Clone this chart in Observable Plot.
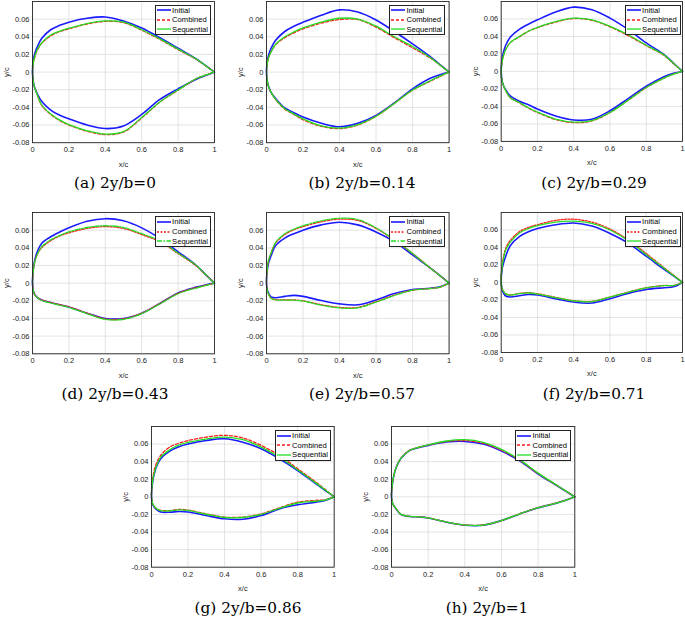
<!DOCTYPE html>
<html><head><meta charset="utf-8">
<script src="https://cdn.jsdelivr.net/npm/d3@7"></script>
<script src="https://cdn.jsdelivr.net/npm/@observablehq/plot@0.6"></script>
<style>
body{margin:0;background:#fff;overflow:hidden}
#root{position:relative;width:685px;height:619px;overflow:hidden}
.panel{position:absolute}
.cap{position:absolute;font-family:"DejaVu Serif",serif;font-size:15.3px;transform:translate(-50%,-50%);white-space:nowrap;color:#000}
.leg{position:absolute;background:#fff;border:1px solid #222;font-family:"Liberation Sans",Arial,sans-serif;font-size:7.6px;line-height:9.6px;padding:0 2px 0 1px;color:#000}
.leg div{display:flex;align-items:center;white-space:nowrap}
.leg svg{margin-right:1px}
</style></head>
<body><div id="root"></div>
<script>
const xs = [0, 0.005, 0.0125, 0.025, 0.05, 0.1, 0.15, 0.2, 0.3, 0.4, 0.5, 0.6, 0.7, 0.8, 0.9, 0.95, 1];
const xTicks = [0, 0.2, 0.4, 0.6, 0.8, 1];
const yTicks = [-0.08, -0.06, -0.04, -0.02, 0, 0.02, 0.04, 0.06];
const seriesNames = ["Initial", "Combined", "Sequential"];
const captions = ["(a) 2y/b=0", "(b) 2y/b=0.14", "(c) 2y/b=0.29", "(d) 2y/b=0.43", "(e) 2y/b=0.57", "(f) 2y/b=0.71", "(g) 2y/b=0.86", "(h) 2y/b=1"];

// (a)
const aInitUp  = [0, 0.014, 0.021, 0.028, 0.038, 0.048, 0.053, 0.0566, 0.061, 0.0625, 0.058, 0.050, 0.039, 0.027, 0.0148, 0.0075, 0];
const aCombUp  = [0, 0.011, 0.017, 0.024, 0.0325, 0.041, 0.046, 0.049, 0.0545, 0.0575, 0.056, 0.0475, 0.037, 0.0255, 0.0145, 0.0073, 0];
const aSeqUp   = [0, 0.011, 0.018, 0.025, 0.033, 0.042, 0.0465, 0.0497, 0.055, 0.058, 0.0565, 0.048, 0.0376, 0.026, 0.0148, 0.0075, 0];
const aInitLow = [0, -0.012, -0.018, -0.024, -0.033, -0.043, -0.049, -0.053, -0.060, -0.064, -0.061, -0.048, -0.031, -0.019, -0.008, -0.004, 0];
const aCombLow = [0, -0.012, -0.018, -0.025, -0.0375, -0.048, -0.055, -0.060, -0.067, -0.0708, -0.068, -0.052, -0.034, -0.0205, -0.0075, -0.0035, 0];
const aSeqLow  = [0, -0.012, -0.018, -0.025, -0.037, -0.0475, -0.0545, -0.0595, -0.0665, -0.0703, -0.0675, -0.0515, -0.0338, -0.0203, -0.0073, -0.0035, 0];
// (b)
const bInitUp  = [0, 0.013, 0.020, 0.027, 0.036, 0.046, 0.052, 0.0565, 0.0645, 0.0705, 0.068, 0.059, 0.046, 0.032, 0.017, 0.0085, 0];
const bCombUp  = [0, 0.011, 0.017, 0.023, 0.031, 0.039, 0.0445, 0.049, 0.0555, 0.0595, 0.0595, 0.051, 0.039, 0.0275, 0.0155, 0.008, 0];
const bSeqUp   = [0, 0.011, 0.017, 0.023, 0.0315, 0.040, 0.0455, 0.050, 0.0566, 0.061, 0.060, 0.052, 0.040, 0.029, 0.016, 0.008, 0];
const bInitLow = [0, -0.011, -0.017, -0.023, -0.030, -0.0406, -0.046, -0.051, -0.058, -0.062, -0.058, -0.049, -0.035, -0.019, -0.0068, -0.003, 0];
const bCombLow = [0, -0.011, -0.017, -0.023, -0.031, -0.042, -0.048, -0.054, -0.0615, -0.064, -0.060, -0.050, -0.0355, -0.0205, -0.010, -0.005, 0];
const bSeqLow  = [0, -0.011, -0.017, -0.023, -0.031, -0.0415, -0.0475, -0.053, -0.061, -0.0635, -0.0595, -0.050, -0.0355, -0.0203, -0.0095, -0.0045, 0];
// (c)
const cInitUp  = [0, 0.014, 0.022, 0.030, 0.039, 0.048, 0.054, 0.059, 0.068, 0.0735, 0.0706, 0.061, 0.048, 0.0327, 0.019, 0.0095, 0];
const cCombUp  = [0, 0.011, 0.018, 0.025, 0.033, 0.0395, 0.046, 0.050, 0.0565, 0.0605, 0.0585, 0.051, 0.041, 0.0295, 0.018, 0.009, 0];
const cSeqUp   = [0, 0.011, 0.018, 0.025, 0.033, 0.040, 0.046, 0.0505, 0.057, 0.061, 0.059, 0.0516, 0.042, 0.030, 0.0186, 0.0093, 0];
const cInitLow = [0, -0.011, -0.016, -0.021, -0.028, -0.034, -0.038, -0.043, -0.051, -0.0555, -0.0547, -0.045, -0.031, -0.017, -0.0058, -0.002, 0];
const cCombLow = [0, -0.011, -0.016, -0.022, -0.030, -0.036, -0.042, -0.047, -0.055, -0.0585, -0.0566, -0.047, -0.033, -0.0185, -0.0075, -0.003, 0];
const cSeqLow  = [0, -0.011, -0.016, -0.022, -0.030, -0.0355, -0.0415, -0.0465, -0.0545, -0.058, -0.0562, -0.047, -0.033, -0.0183, -0.0073, -0.003, 0];
// (d)
const dInitUp  = [0, 0.017, 0.026, 0.035, 0.045, 0.0525, 0.058, 0.0626, 0.070, 0.073, 0.0706, 0.0626, 0.0506, 0.0355, 0.020, 0.010, 0];
const dCombUp  = [0, 0.015, 0.024, 0.032, 0.040, 0.048, 0.0535, 0.057, 0.062, 0.064, 0.062, 0.055, 0.047, 0.0335, 0.0195, 0.0098, 0];
const dSeqUp   = [0, 0.015, 0.024, 0.032, 0.041, 0.049, 0.054, 0.058, 0.063, 0.065, 0.063, 0.056, 0.048, 0.034, 0.020, 0.010, 0];
const dInitLow = [0, -0.009, -0.013, -0.016, -0.019, -0.022, -0.0245, -0.027, -0.034, -0.040, -0.040, -0.034, -0.023, -0.011, -0.0045, -0.002, 0];
const dCombLow = [0, -0.009, -0.013, -0.016, -0.019, -0.022, -0.0245, -0.027, -0.034, -0.0405, -0.0405, -0.034, -0.023, -0.0115, -0.005, -0.0025, 0];
const dSeqLow  = [0, -0.009, -0.013, -0.016, -0.0195, -0.0225, -0.025, -0.0275, -0.0345, -0.041, -0.041, -0.0345, -0.0235, -0.012, -0.0055, -0.0028, 0];
// (e)
const eInitUp  = [0, 0.016, 0.024, 0.031, 0.0425, 0.051, 0.056, 0.060, 0.066, 0.069, 0.066, 0.058, 0.047, 0.032, 0.0166, 0.0085, 0];
const eCombUp  = [0, 0.018, 0.027, 0.034, 0.0455, 0.055, 0.0605, 0.064, 0.0695, 0.0725, 0.071, 0.062, 0.0487, 0.0336, 0.0166, 0.0085, 0];
const eSeqUp   = [0, 0.018, 0.027, 0.034, 0.046, 0.056, 0.061, 0.065, 0.0705, 0.0735, 0.072, 0.0625, 0.049, 0.0336, 0.0166, 0.0085, 0];
const eInitLow = [0, -0.008, -0.012, -0.0155, -0.0165, -0.015, -0.0139, -0.015, -0.0197, -0.0235, -0.0245, -0.019, -0.0117, -0.0072, -0.0057, -0.004, 0];
const eCombLow = [0, -0.009, -0.013, -0.017, -0.0186, -0.019, -0.019, -0.020, -0.0245, -0.0275, -0.0275, -0.021, -0.0136, -0.008, -0.006, -0.0045, 0];
const eSeqLow  = [0, -0.009, -0.013, -0.017, -0.019, -0.0193, -0.0193, -0.0203, -0.025, -0.028, -0.028, -0.0215, -0.014, -0.008, -0.006, -0.0045, 0];
// (f)
const fInitUp  = [0, 0.015, 0.022, 0.030, 0.042, 0.0525, 0.058, 0.0617, 0.066, 0.068, 0.0645, 0.056, 0.045, 0.030, 0.0147, 0.0075, 0];
const fCombUp  = [0, 0.019, 0.029, 0.039, 0.048, 0.058, 0.063, 0.066, 0.071, 0.0723, 0.069, 0.061, 0.0487, 0.033, 0.0166, 0.0085, 0];
const fSeqUp   = [0, 0.018, 0.027, 0.037, 0.046, 0.0565, 0.0615, 0.065, 0.069, 0.070, 0.0675, 0.060, 0.048, 0.0317, 0.016, 0.008, 0];
const fInitLow = [0, -0.008, -0.012, -0.0155, -0.0165, -0.0152, -0.0138, -0.0143, -0.0186, -0.0224, -0.0235, -0.0185, -0.0125, -0.008, -0.006, -0.005, 0];
const fCombLow = [0, -0.007, -0.010, -0.013, -0.0143, -0.0125, -0.0117, -0.0129, -0.017, -0.0208, -0.0215, -0.0166, -0.011, -0.006, -0.0034, -0.0034, 0];
const fSeqLow  = [0, -0.007, -0.010, -0.013, -0.0145, -0.0128, -0.012, -0.0132, -0.0173, -0.0211, -0.0218, -0.0168, -0.0112, -0.0062, -0.0036, -0.0035, 0];
// (g)
const gInitUp  = [0, 0.015, 0.024, 0.033, 0.0433, 0.052, 0.057, 0.060, 0.064, 0.066, 0.062, 0.0547, 0.0433, 0.030, 0.0148, 0.0075, 0];
const gCombUp  = [0, 0.018, 0.028, 0.037, 0.047, 0.0566, 0.061, 0.064, 0.068, 0.070, 0.067, 0.0585, 0.047, 0.032, 0.0167, 0.0085, 0];
const gSeqUp   = [0, 0.016, 0.025, 0.034, 0.045, 0.0535, 0.059, 0.062, 0.0657, 0.068, 0.065, 0.0566, 0.045, 0.0308, 0.0156, 0.008, 0];
const gInitLow = [0, -0.008, -0.011, -0.014, -0.0172, -0.0175, -0.0166, -0.0172, -0.0213, -0.025, -0.0254, -0.0213, -0.0137, -0.009, -0.006, -0.004, 0];
const gCombLow = [0, -0.007, -0.010, -0.013, -0.0154, -0.0156, -0.0143, -0.015, -0.0194, -0.023, -0.023, -0.0194, -0.0125, -0.006, -0.004, -0.0034, 0];
const gSeqLow  = [0, -0.007, -0.010, -0.013, -0.0158, -0.016, -0.0148, -0.0154, -0.0198, -0.0235, -0.0235, -0.0198, -0.013, -0.007, -0.005, -0.0037, 0];
// (h)
const hInitUp  = [0, 0.015, 0.024, 0.033, 0.0433, 0.0528, 0.056, 0.0585, 0.0623, 0.063, 0.060, 0.052, 0.041, 0.026, 0.013, 0.0065, 0];
const hCombUp  = [0, 0.015, 0.024, 0.033, 0.0435, 0.053, 0.0563, 0.059, 0.063, 0.064, 0.061, 0.053, 0.0415, 0.0265, 0.0133, 0.0067, 0];
const hSeqUp   = [0, 0.015, 0.024, 0.033, 0.0435, 0.053, 0.0565, 0.0592, 0.0635, 0.065, 0.062, 0.054, 0.042, 0.027, 0.0135, 0.0068, 0];
const hInitLow = [0, -0.007, -0.010, -0.0137, -0.020, -0.0224, -0.0228, -0.024, -0.0289, -0.0323, -0.0323, -0.027, -0.0194, -0.0125, -0.0072, -0.004, 0];
const hCombLow = [0, -0.007, -0.010, -0.0135, -0.0195, -0.0222, -0.0226, -0.0238, -0.0287, -0.032, -0.032, -0.027, -0.0192, -0.0123, -0.007, -0.0038, 0];
const hSeqLow  = [0, -0.007, -0.010, -0.0135, -0.0197, -0.0223, -0.0227, -0.0239, -0.0288, -0.0322, -0.0322, -0.027, -0.0193, -0.0124, -0.0071, -0.0039, 0];

const panelData = [
  [[aInitUp, aInitLow], [aCombUp, aCombLow], [aSeqUp, aSeqLow]],
  [[bInitUp, bInitLow], [bCombUp, bCombLow], [bSeqUp, bSeqLow]],
  [[cInitUp, cInitLow], [cCombUp, cCombLow], [cSeqUp, cSeqLow]],
  [[dInitUp, dInitLow], [dCombUp, dCombLow], [dSeqUp, dSeqLow]],
  [[eInitUp, eInitLow], [eCombUp, eCombLow], [eSeqUp, eSeqLow]],
  [[fInitUp, fInitLow], [fCombUp, fCombLow], [fSeqUp, fSeqLow]],
  [[gInitUp, gInitLow], [gCombUp, gCombLow], [gSeqUp, gSeqLow]],
  [[hInitUp, hInitLow], [hCombUp, hCombLow], [hSeqUp, hSeqLow]]
];

// layout: plot-frame boxes [x0, x1, y0, y1] and caption centres
const frames = [
  [32, 214, 0.5, 141.7], [265.7, 448.3, 0.5, 141.7], [501, 684, 0.5, 141.7],
  [32, 214, 212.4, 353.7], [265.7, 448.3, 212.4, 353.7], [501, 684, 212.4, 353.7],
  [151.3, 334, 426, 566.7], [391, 574.3, 426, 566.7]
];
const capPos = [[115,183],[362,183],[594,183],[115,394],[362,394],[594,394],[248,608],[487,608]];

const colors = ["#1a1aff", "#ff1a1a", "#22dd22"];
const widths = [1.6, 1.3, 1.3];
const combDash = ["3,2","3,2","3,2","2,1.5","2,1.5","2,1.5","3,2","3,2"];
const seqDash  = ["none","none","none","5,1.5,1.5,1.5","5,1.5,1.5,1.5","none","none","none"];

function contour(up, low) {
  const pts = [];
  for (let i = xs.length - 1; i >= 0; i--) pts.push({x: xs[i], y: up[i]});
  for (let i = 1; i < xs.length; i++) pts.push({x: xs[i], y: low[i]});
  return pts;
}

const root = document.getElementById("root");
const mL = 34, mR = 3, mT = 2, mB = 30;
const fmt = d => String(d);

frames.forEach(([x0, x1, y0, y1], p) => {
  const dashes = ["none", combDash[p], seqDash[p]];
  const lines = panelData[p].map(([up, low], s) =>
    Plot.line(contour(up, low), {x: "x", y: "y", stroke: colors[s], strokeWidth: widths[s],
      strokeDasharray: dashes[s], curve: "catmull-rom"}));
  const chart = Plot.plot({
    width: (x1 - x0) + mL + mR,
    height: (y1 - y0) + mT + mB,
    marginLeft: mL, marginRight: mR, marginTop: mT, marginBottom: mB,
    x: {domain: [0, 1], ticks: xTicks, tickFormat: fmt, tickSize: 0, tickPadding: 4,
        label: "x/c", labelAnchor: "center", labelOffset: 24, labelArrow: "none"},
    y: {domain: [-0.08, 0.08], ticks: yTicks, tickFormat: fmt, tickSize: 0, tickPadding: 3,
        label: "y/c", labelAnchor: "center", labelOffset: 29, labelArrow: "none"},
    style: {fontFamily: "'Liberation Sans', Arial, sans-serif", fontSize: "7.5px", background: "transparent", overflow: "visible", color: "#222"},
    marks: [
      Plot.gridX(xTicks, {stroke: "#dcdcdc", strokeOpacity: 1, strokeWidth: 0.8}),
      Plot.gridY(yTicks, {stroke: "#dcdcdc", strokeOpacity: 1, strokeWidth: 0.8}),
      ...lines,
      Plot.frame({stroke: "#262626", strokeWidth: 0.9})
    ]
  });
  const wrap = document.createElement("div");
  wrap.className = "panel";
  wrap.style.left = (x0 - mL) + "px";
  wrap.style.top = (y0 - mT) + "px";
  wrap.appendChild(chart);
  root.appendChild(wrap);

  const leg = document.createElement("div");
  leg.className = "leg";
  leg.style.right = (685 - (x1 - 3)) + "px";
  leg.style.top = (y0 + 4) + "px";
  seriesNames.forEach((name, s) => {
    const row = document.createElement("div");
    row.innerHTML = `<svg width="14" height="8"><line x1="0" y1="4" x2="14" y2="4" stroke="${colors[s]}" stroke-width="${widths[s]}" stroke-dasharray="${dashes[s]}"/></svg><span>${name}</span>`;
    leg.appendChild(row);
  });
  root.appendChild(leg);

  const cap = document.createElement("div");
  cap.className = "cap";
  cap.textContent = captions[p];
  cap.style.left = capPos[p][0] + "px";
  cap.style.top = capPos[p][1] + "px";
  root.appendChild(cap);
});
</script>
</body></html>
